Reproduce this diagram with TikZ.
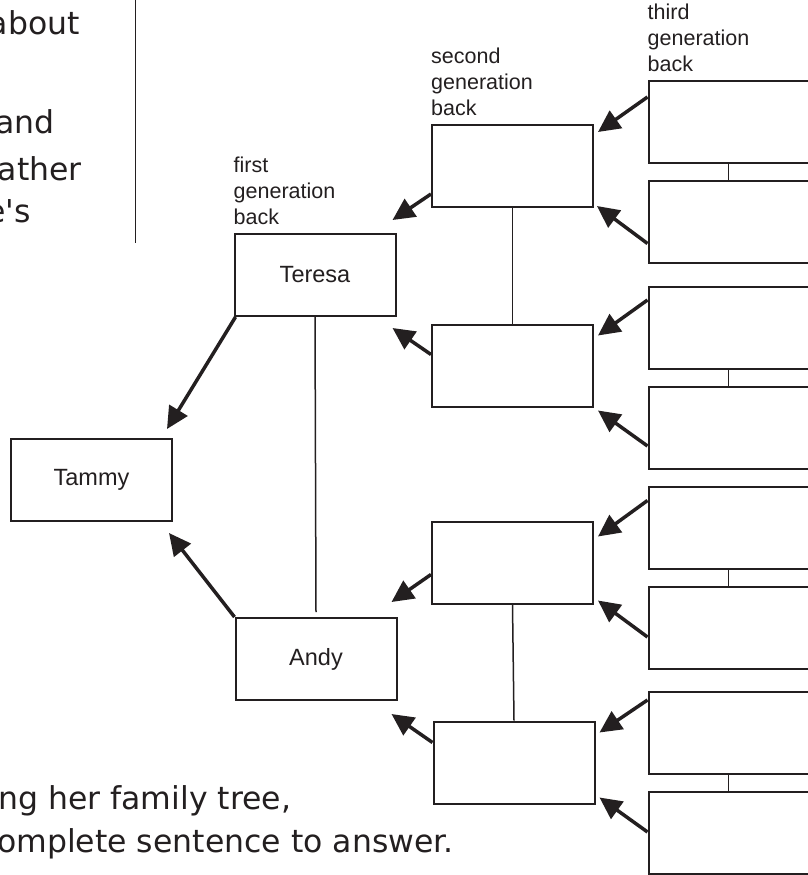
\documentclass[tikz,border=0pt]{standalone}
\usepackage{fontspec}
\setmainfont{Liberation Sans}
\newfontfamily\notefont{DejaVu Sans}
\usetikzlibrary{arrows.meta,positioning,calc}
\definecolor{ink}{RGB}{35,31,32}
\tikzset{
 person/.style={rectangle,draw=ink,line width=2pt,fill=white,minimum width=161pt,minimum height=82pt,inner sep=0pt,font=\fontsize{23.5}{27}\selectfont,text=ink},
 elder/.style={person,minimum width=160pt},
 genlabel/.style={align=left,inner sep=0pt,font=\fontsize{21.5}{26}\selectfont,text=ink},
 note/.style={inner sep=0pt,font=\notefont\fontsize{31.5}{37}\selectfont,text=ink},
 tie/.style={draw=ink,line width=1.5pt},
 link/.style={-{Triangle[length=22pt,width=21pt]},line width=3.5pt,draw=ink}}
\begin{document}
\begin{tikzpicture}[x=1pt,y=-1pt]
\useasboundingbox (0,0) rectangle (808,875);
% cut-off worksheet text
\coordinate (ruletop) at (135,0); \coordinate (rulebot) at (135,243);
\draw[ink,line width=1pt] (ruletop)--(rulebot);
\node[note,anchor=base east] (about) at (80,35) {about};
\node[note,anchor=base east] (and) at (55,133) {and};
\node[note,anchor=base east] (ather) at (82,180) {ather};
\node[note,anchor=base east] (es) at (31,222) {e's};
\node[note,anchor=base west] (q1) at (-2,809) {ng her family tree,};
\node[note,anchor=base west] (q2) at (-3,852) {omplete sentence to answer.};
% the tree
\node[person] (tammy) at (91.5,480) {Tammy};
\node[person] (teresa) at (315,275) {Teresa};
\node[person] (andy) at (316,659) {Andy};
\node[person] (s1) at (512.5,166) {};
\node[person] (s2) at (512.5,365.5) {};
\node[person] (s3) at (512.5,562.5) {};
\node[person] (s4) at (514,762.5) {};
\node[elder] (t1) at (728.5,122) {};
\node[elder] (t2) at (728.5,221.5) {};
\node[elder] (t3) at (728.5,328) {};
\node[elder] (t4) at (728.5,428) {};
\node[elder] (t5) at (728.5,527.5) {};
\node[elder] (t6) at (728.5,628) {};
\node[elder] (t7) at (728.5,733) {};
\node[elder] (t8) at (728.5,833) {};
\node[genlabel,above right=8pt and 0pt of teresa.north west] (gen1) {first\\generation\\back};
\node[genlabel,above right=8pt and 0pt of s1.north west] (gen2) {second\\generation\\back};
\node[genlabel,above right=8pt and 0pt of t1.north west] (gen3) {third\\generation\\back};
% couples
\draw[tie] (teresa.south) -- ($(andy.north)+(0,-5)$);
\draw[tie] (s1.south) -- (s2.north); \draw[tie] (s3.south) -- (s4.north);
\draw[tie] (t1.south) -- (t2.north); \draw[tie] (t3.south) -- (t4.north);
\draw[tie] (t5.south) -- (t6.north); \draw[tie] (t7.south) -- (t8.north);
% parents point to child
\draw[link] ($(teresa.south west)+(2,0)$) -- ($(tammy.north east)+(-6,-9)$);
\draw[link] (andy.north west) -- ($(tammy.south east)+(-4,11)$);
\draw[link] ($(s1.south west)+(0,-14)$) -- ($(teresa.north east)+(-4,-13)$);
\draw[link] ($(s2.north west)+(0,31)$) -- ($(teresa.south east)+(-4,11)$);
\draw[link] ($(s3.south west)+(0,-30)$) -- ($(andy.north east)+(-6,-15)$);
\draw[link] ($(s4.north west)+(0,22)$) -- ($(andy.south east)+(-6,13)$);
\draw[link] ($(t1.north west)+(0,17)$) -- ($(s1.north east)+(4,8)$);
\draw[link] ($(t2.south west)+(0,-20)$) -- ($(s1.south east)+(3,-2)$);
\draw[link] ($(t3.north west)+(0,14)$) -- ($(s2.north east)+(4,12)$);
\draw[link] ($(t4.south west)+(0,-24)$) -- ($(s2.south east)+(4,3)$);
\draw[link] ($(t5.north west)+(0,15)$) -- ($(s3.north east)+(4,16)$);
\draw[link] ($(t6.south west)+(0,-33)$) -- ($(s3.south east)+(4,-4)$);
\draw[link] ($(t7.north west)+(0,9)$) -- ($(s4.north east)+(4,12)$);
\draw[link] ($(t8.south west)+(0,-43)$) -- ($(s4.south east)+(4,-7)$);
\end{tikzpicture}
\end{document}
